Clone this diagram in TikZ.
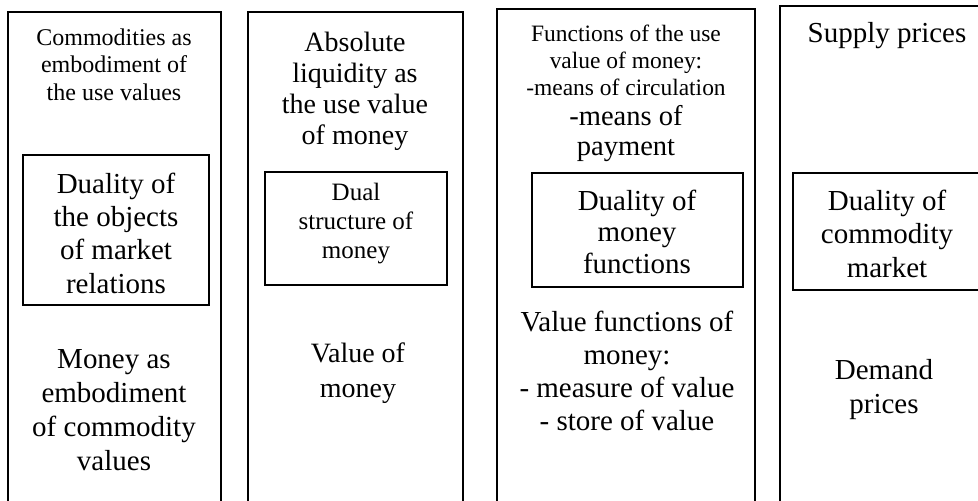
\documentclass[tikz,border=0pt]{standalone}
\usepackage{fontspec}
\setmainfont{Liberation Serif}

\tikzset{every picture/.style={line width=0.75pt},
  outerbox/.style={line width=1.2pt},
  innerbox/.style={line width=1.6pt},
  lbl/.style={anchor=base, align=center, inner sep=0pt}}

\begin{document}
\begin{tikzpicture}[x=0.75pt,y=0.75pt,yscale=-1,xscale=1]
\useasboundingbox (0,0) rectangle (978,500);
\clip (0,0) rectangle (978,500);

%Shape: Rectangle [commodities column]
\draw [outerbox] (8,12) rectangle (221,512);
%Shape: Rectangle [liquidity column]
\draw [outerbox] (248,12) rectangle (463,512);
%Shape: Rectangle [functions column]
\draw [outerbox] (497,9) rectangle (755,512);
%Shape: Rectangle [prices column]
\draw [outerbox] (780,6) rectangle (995,512);

%Shape: Rectangle [inner boxes]
\draw [innerbox] (23,155) rectangle (209,305);
\draw [innerbox] (265,172) rectangle (447,285);
\draw [innerbox] (532,173) rectangle (743,287);
\draw [innerbox] (793,173) rectangle (990,290);

% Text Node
\node (usevalues) [lbl, font=\fontsize{18pt}{20.6pt}\selectfont] at (114,100) {Commodities as\\embodiment of\\the use values};
% Text Node
\node (objects) [lbl, font=\fontsize{21.75pt}{25pt}\selectfont] at (116,293) {Duality of\\the objects\\of market\\relations};
% Text Node
\node (moneyemb) [lbl, font=\fontsize{21.75pt}{25.5pt}\selectfont] at (114,470) {Money as\\embodiment\\of commodity\\values};

% Text Node
\node (liquidity) [lbl, font=\fontsize{21pt}{23.25pt}\selectfont] at (355,144) {Absolute\\liquidity as\\the use value\\of money};
% Text Node
\node (dualstruct) [lbl, font=\fontsize{18.75pt}{21.75pt}\selectfont] at (356,258) {Dual\\structure of\\money};
% Text Node
\node (valuemoney) [lbl, font=\fontsize{21pt}{26.25pt}\selectfont] at (358,397) {Value of\\money};

% Text Node
\node (usefunc) [lbl, font=\fontsize{17.6pt}{19.9pt}\selectfont] at (626,95) {Functions of the use\\value of money:\\-means of circulation};
% Text Node
\node (payment) [lbl, font=\fontsize{21.4pt}{22.5pt}\selectfont] at (626,155) {-means of\\payment};
% Text Node
\node (dualfunc) [lbl, font=\fontsize{21.75pt}{23.6pt}\selectfont] at (637,273) {Duality of\\money\\functions};
% Text Node
\node (valuefunc) [lbl, font=\fontsize{21.75pt}{24.75pt}\selectfont] at (627,430) {Value functions of\\money:\\- measure of value\\- store of value};

% Text Node
\node (supply) [lbl, font=\fontsize{21.75pt}{25pt}\selectfont] at (887,42) {Supply prices};
% Text Node
\node (dualmarket) [lbl, font=\fontsize{21.75pt}{25pt}\selectfont] at (887,277) {Duality of\\commodity\\market};
% Text Node
\node (demand) [lbl, font=\fontsize{21.75pt}{25pt}\selectfont] at (884,413) {Demand\\prices};

\end{tikzpicture}
\end{document}
